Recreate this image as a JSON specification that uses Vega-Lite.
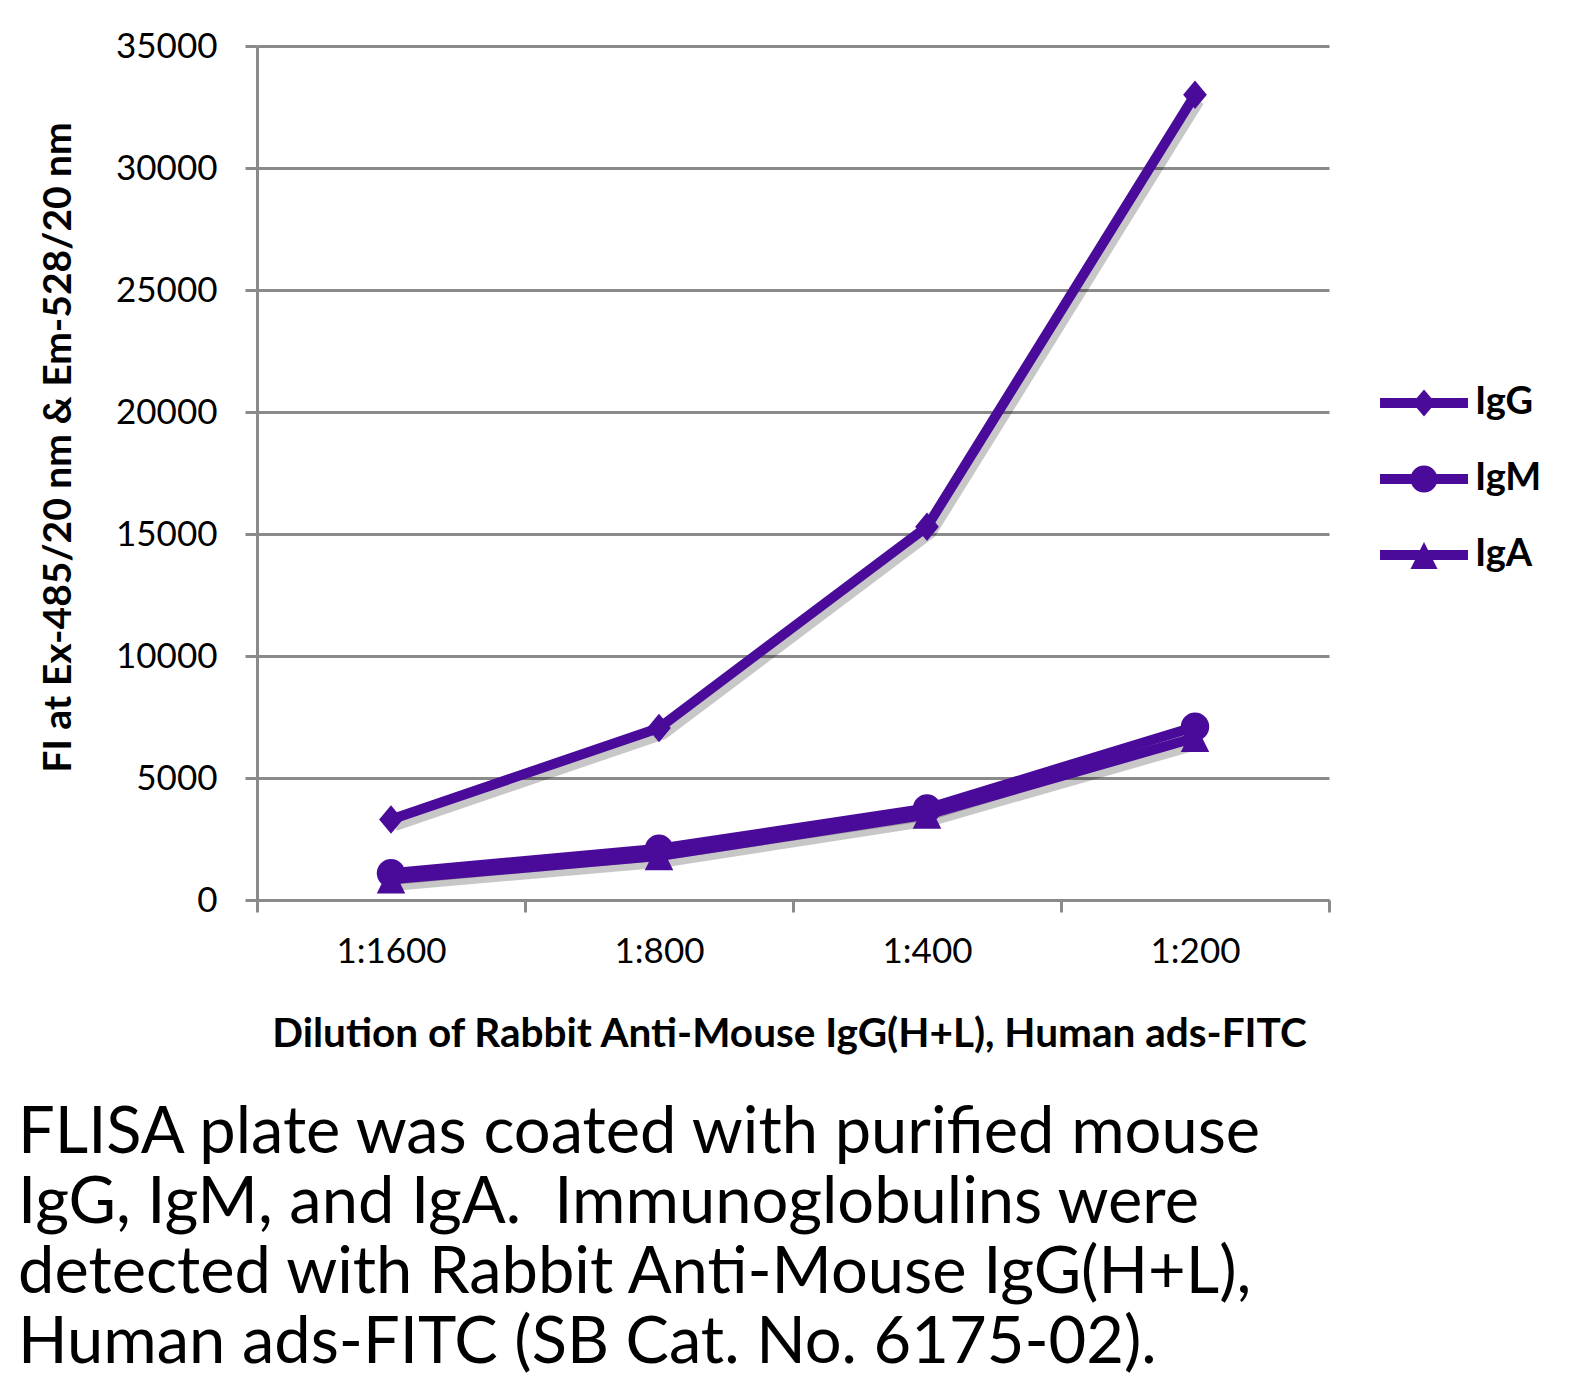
{
  "$schema": "https://vega.github.io/schema/vega-lite/v6.json",
  "autosize": {"type": "none"},
  "width": 1072,
  "height": 854,
  "padding": {"left": 257, "top": 46, "right": 261, "bottom": 488},
  "background": "white",
  "config": {"view": {"stroke": null}, "font": "Lato"},
  "title": {
    "text": ["FLISA plate was coated with purified mouse", "IgG, IgM, and IgA.\u00a0 Immunoglobulins were", "detected with Rabbit Anti-Mouse IgG(H+L),", "Human ads-FITC (SB Cat. No. 6175-02)."],
    "orient": "bottom",
    "anchor": "start",
    "frame": "group",
    "dx": -239,
    "offset": 47,
    "font": "Lato",
    "fontSize": 65,
    "fontWeight": "normal",
    "lineHeight": 70,
    "color": "#000000"
  },
  "data": {
    "values": [
      {"dilution": "1:1600", "series": "IgG", "value": 3300},
      {"dilution": "1:800", "series": "IgG", "value": 7050},
      {"dilution": "1:400", "series": "IgG", "value": 15300},
      {"dilution": "1:200", "series": "IgG", "value": 33000},
      {"dilution": "1:1600", "series": "IgM", "value": 1100},
      {"dilution": "1:800", "series": "IgM", "value": 2100},
      {"dilution": "1:400", "series": "IgM", "value": 3750},
      {"dilution": "1:200", "series": "IgM", "value": 7100},
      {"dilution": "1:1600", "series": "IgA", "value": 850},
      {"dilution": "1:800", "series": "IgA", "value": 1800},
      {"dilution": "1:400", "series": "IgA", "value": 3500},
      {"dilution": "1:200", "series": "IgA", "value": 6650}
    ]
  },
  "encoding": {
    "x": {
      "field": "dilution",
      "type": "ordinal",
      "sort": ["1:1600", "1:800", "1:400", "1:200"],
      "bandPosition": 0.5,
      "scale": {"type": "band", "paddingInner": 0, "paddingOuter": 0},
      "axis": {
        "title": "Dilution of Rabbit Anti-Mouse IgG(H+L), Human ads-FITC",
        "titleFont": "Lato",
        "titleFontSize": 40.5,
        "titleFontWeight": "bold",
        "titleColor": "#000000",
        "titleX": 532,
        "titleY": 146,
        "titleAlign": "center",
        "titleBaseline": "alphabetic",
        "labelAngle": 0,
        "labelFont": "Lato",
        "labelFontSize": 35,
        "labelColor": "#000000",
        "labelPadding": 22,
        "tickBand": "extent",
        "tickSize": 12,
        "tickWidth": 3,
        "tickColor": "#8a8a8a",
        "domainColor": "#8a8a8a",
        "domainWidth": 3,
        "grid": false
      }
    },
    "y": {
      "field": "value",
      "type": "quantitative",
      "scale": {"domain": [0, 35000], "nice": false},
      "axis": {
        "title": "FI at Ex-485/20 nm & Em-528/20 nm",
        "titleFont": "Lato",
        "titleFontSize": 39,
        "titleFontWeight": "bold",
        "titleColor": "#000000",
        "titleAngle": 270,
        "titleX": -199,
        "titleY": 401,
        "titleAlign": "center",
        "titleBaseline": "middle",
        "values": [0, 5000, 10000, 15000, 20000, 25000, 30000, 35000],
        "format": "d",
        "labelFont": "Lato",
        "labelFontSize": 35,
        "labelColor": "#000000",
        "labelPadding": 28,
        "tickSize": 12,
        "tickWidth": 3,
        "tickColor": "#8a8a8a",
        "domainColor": "#8a8a8a",
        "domainWidth": 3,
        "grid": true,
        "gridColor": "#8a8a8a",
        "gridWidth": 3
      }
    }
  },
  "layer": [
    {
      "mark": {"type": "line", "color": "#000000", "opacity": 0.22, "strokeWidth": 11, "xOffset": 4, "yOffset": 6, "strokeJoin": "round"},
      "encoding": {"detail": {"field": "series"}}
    },
    {
      "mark": {"type": "line", "color": "#4a0a9a", "strokeWidth": 10, "strokeJoin": "round"},
      "encoding": {"detail": {"field": "series"}}
    },
    {
      "mark": {"type": "point", "filled": true, "color": "#4a0a9a", "opacity": 1, "size": 1000},
      "encoding": {
        "shape": {
          "field": "series",
          "type": "nominal",
          "scale": {
            "domain": ["IgG", "IgM", "IgA"],
            "range": [
              "M-0.75,0 L0,-0.9 L0.75,0 L0,0.9 Z",
              "M-0.9,0 A0.9,0.9 0 1,1 0.9,0 A0.9,0.9 0 1,1 -0.9,0 Z",
              "M0,-0.9 L0.9,0.9 L-0.9,0.9 Z"
            ]
          },
          "legend": null
        }
      }
    },
    {
      "transform": [{"filter": "false"}],
      "mark": {"type": "point", "filled": true, "color": "#4a0a9a", "opacity": 1, "size": 3600},
      "encoding": {
        "shape": {
          "field": "series",
          "type": "nominal",
          "scale": {
            "domain": ["IgG", "IgM", "IgA"],
            "range": [
              "M-1.467,-0.167 L1.467,-0.167 L1.467,0.167 L-1.467,0.167 Z M-0.383,0 L0,-0.45 L0.383,0 L0,0.45 Z",
              "M-1.467,-0.167 L1.467,-0.167 L1.467,0.167 L-1.467,0.167 Z M-0.45,0 A0.45,0.45 0 1,1 0.45,0 A0.45,0.45 0 1,1 -0.45,0 Z",
              "M-1.467,-0.167 L1.467,-0.167 L1.467,0.167 L-1.467,0.167 Z M0,-0.433 L0.45,0.467 L-0.45,0.467 Z"
            ]
          },
          "legend": {
            "title": null,
            "orient": "none",
            "legendX": 1137,
            "legendY": 327,
            "padding": 0,
            "rowPadding": 27,
            "labelOffset": 21,
            "labelFont": "Lato",
            "labelFontSize": 38,
            "labelFontWeight": "bold",
            "labelColor": "#000000",
            "symbolSize": 3600,
            "symbolFillColor": "#4a0a9a",
            "symbolStrokeWidth": 0,
            "symbolOpacity": 1
          }
        }
      }
    }
  ],
  "resolve": {"scale": {"shape": "independent"}}
}
